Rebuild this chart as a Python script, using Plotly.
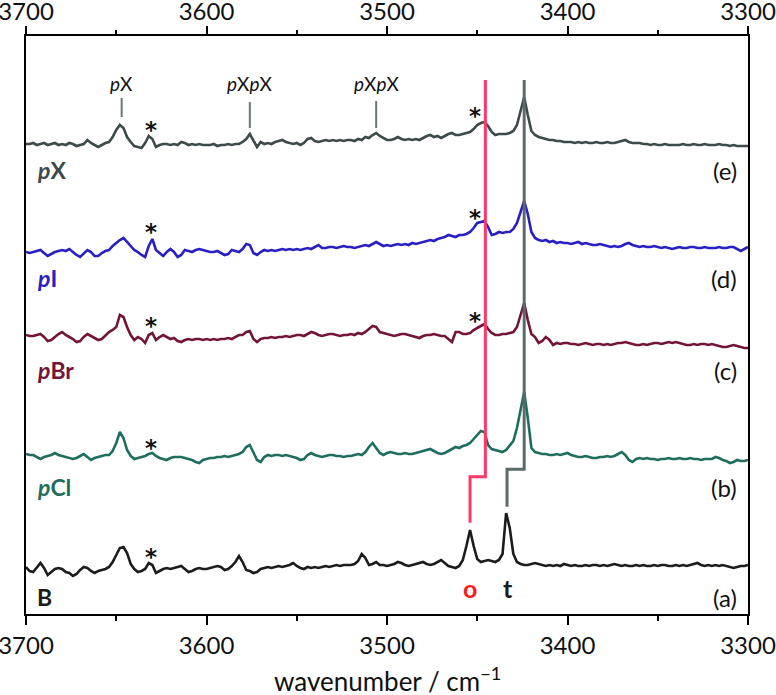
import numpy as np
import plotly.graph_objects as go

# wavenumber grid (cm^-1), 2 cm^-1 steps from 3700 down to 3300
wavenumber = np.arange(3700, 3299, -2)

# intensities (arbitrary units, relative to each trace's own baseline)
spec_pX = [
    1, 1, 2, 0, 1, 2, 0, 1, 2, 0,
    1, 0, 2, 1, -1, 0, 1, 5, 2, 0,
    -2, 0, 2, 3, 8, 15, 20, 17, 8, 3,
    -1, -2, -3, 2, 9, 6, -2, 0, 1, 1,
    0, 1, 0, 3, 2, 0, 1, 0, 1, 0,
    0, 0, 1, -1, 0, 0, 1, 0, 1, 1,
    3, 6, 11, 4, -2, 3, 1, 2, 1, 3,
    4, 5, 3, 2, 1, 2, 0, 2, 6, 7,
    4, 3, 4, 5, 4, 5, 4, 5, 4, 5,
    5, 4, 6, 5, 8, 7, 10, 12, 9, 7,
    5, 5, 6, 8, 6, 5, 6, 5, 6, 5,
    7, 9, 10, 8, 9, 7, 9, 11, 12, 10,
    10, 11, 12, 13, 16, 20, 22, 23, 19, 13,
    10, 11, 11, 11, 12, 14, 20, 35, 48, 30,
    14, 10, 8, 7, 6, 5, 5, 4, 4, 3,
    3, 3, 2, 3, 2, 3, 2, 2, 3, 2,
    2, 3, 2, 2, 3, 4, 5, 3, 2, 2,
    2, 1, 1, 0, 1, 0, 0, 1, 0, 0,
    0, 0, 1, 0, 0, 1, 0, 0, 1, 0,
    0, 0, 1, 0, 0, -1, 0, -1, -1, -1,
    -1,
]
spec_pI = [
    0, -1, 0, 1, 2, -1, -4, -2, 0, 1,
    2, 1, 3, 0, -3, -5, -1, 2, 0, -4,
    -4, -1, 1, 2, 6, 9, 12, 14, 10, 5,
    2, 0, -3, -5, 6, 13, 2, -1, -4, 0,
    3, 0, -5, -3, 2, 1, 0, 2, 3, 2,
    1, 0, 0, 1, -1, -3, -2, 2, 1, 0,
    3, 8, 7, -1, -3, 0, 2, 1, 2, 1,
    2, 3, 2, 3, 2, 3, 2, 3, 4, 3,
    5, 7, 4, 4, 5, 5, 4, 5, 6, 5,
    5, 4, 5, 6, 7, 6, 8, 10, 8, 6,
    7, 6, 7, 8, 7, 8, 7, 9, 8, 9,
    10, 11, 12, 11, 13, 14, 15, 17, 16, 15,
    17, 17, 18, 20, 24, 29, 30, 31, 25, 17,
    18, 20, 19, 20, 20, 23, 29, 40, 51, 38,
    20, 14, 12, 11, 12, 10, 11, 9, 10, 9,
    9, 8, 9, 10, 8, 9, 8, 7, 7, 8,
    7, 6, 5, 6, 5, 6, 8, 9, 7, 6,
    5, 6, 5, 5, 6, 5, 4, 5, 4, 3,
    4, 5, 4, 4, 5, 5, 4, 4, 5, 4,
    4, 4, 5, 4, 4, 5, 5, 3, 1, 3,
    5,
]
spec_pBr = [
    2, 1, 1, 2, 3, 0, -4, -3, 0, 3,
    5, 2, 0, -2, -5, -4, 0, 3, 1, -1,
    -3, -2, 2, 5, 7, 10, 22, 20, 10, 2,
    -3, 0, -2, -6, 2, 4, -3, 0, 2, 0,
    -2, -1, -4, -5, -3, -2, -3, -2, -2, -3,
    -2, -3, -2, -3, -2, -2, -1, -2, 0, 2,
    2, 5, 6, -2, -5, -2, -1, -1, 0, -1,
    0, 0, 1, 0, 1, 2, 2, 1, 3, 5,
    4, 2, 1, 2, 3, 3, 2, 1, 2, 2,
    3, 2, 4, 3, 5, 8, 11, 10, 5, 4,
    3, 2, 1, 2, 3, 3, 2, 1, 0, -1,
    1, 2, 2, 3, 2, 1, 1, -2, -5, 5,
    5, 3, 3, 4, 7, 9, 11, 13, 8, 4,
    2, 2, 3, 3, 4, 5, 10, 22, 34, 17,
    3, 0, -6, -4, 0, -3, -8, -6, -7, -6,
    -6, -7, -7, -8, -7, -6, -7, -8, -7, -7,
    -8, -7, -8, -7, -6, -6, -5, -6, -7, -8,
    -8, -7, -8, -7, -6, -6, -7, -6, -5, -6,
    -5, -6, -7, -8, -8, -7, -8, -7, -7, -8,
    -7, -8, -9, -10, -10, -9, -8, -9, -10, -11,
    -11,
]
spec_pCl = [
    2, 1, 1, -1, -3, -1, 0, 1, 3, 1,
    0, -1, -2, -3, -2, 0, 2, -1, -4, -2,
    -1, 0, 1, 1, 5, 13, 24, 18, 6, 0,
    -3, -2, -1, 0, 2, 3, 0, -2, -3, -4,
    -2, -1, -1, -1, -2, -3, -4, -6, -7, -4,
    -3, -2, -2, -1, -1, 0, -1, 0, 1, 2,
    4, 9, 11, 3, -4, -6, -1, 1, 0, 1,
    1, 0, 1, 0, -1, -2, -4, -3, 1, 3,
    1, 0, -1, 0, 1, 1, 0, 0, -1, 0,
    0, 1, 2, 1, 4, 9, 13, 8, 3, 1,
    3, 4, 3, 2, 2, 3, 2, 2, 3, 4,
    5, 6, 7, 5, 3, 2, 3, 5, 7, 9,
    8, 10, 11, 13, 17, 21, 25, 24, 11, 7,
    6, 5, 4, 6, 10, 15, 28, 48, 64, 38,
    8, 4, 3, 2, 2, 1, 1, 2, 1, 2,
    3, 1, 0, -1, -1, 0, -1, -2, -2, -1,
    -1, 0, -1, 0, 2, 4, 1, -4, -6, -3,
    -2, -3, -2, -3, -3, -4, -3, -3, -2, -3,
    -3, -2, -3, -3, -2, -3, -3, -4, -3, -3,
    -3, -1, -2, -4, -5, -7, -6, -4, -5, -5,
    -4,
]
spec_B = [
    1, -3, -4, 0, 5, 0, -7, -4, -1, 0,
    -1, -4, -5, -8, -6, -2, 1, 0, -3, -5,
    -3, -2, -1, 1, 6, 13, 20, 21, 15, 4,
    -1, -4, -3, -1, 5, 3, -5, -3, -1, 0,
    -1, 0, 1, 2, -1, -4, -3, -1, 0, -1,
    -1, 0, 1, 2, 1, -2, -1, 2, 6, 12,
    6, -2, -3, -5, -4, -1, 0, 1, 0, 1,
    2, 1, 2, 3, 5, 2, 0, -1, 1, 0,
    1, 0, 1, 2, 1, 2, 3, 2, 3, 3,
    3, 4, 7, 14, 10, 3, 4, 6, 3, 3,
    2, 3, 4, 6, 5, 3, 2, 3, 4, 5,
    6, 4, 3, 4, 6, 8, 5, 2, 1, 0,
    2, 8, 22, 38, 22, 9, 6, 7, 8, 7,
    6, 8, 14, 55, 40, 14, 6, 4, 3, 3,
    4, 5, 4, 3, 2, 3, 2, 3, 2, 4,
    3, 2, 3, 2, 2, 3, 2, 3, 3, 2,
    3, 2, 3, 4, 3, 2, 3, 2, 2, 3,
    2, 3, 2, 2, 3, 2, 3, 3, 2, 2,
    3, 2, 3, 2, 3, 4, 5, 3, 2, 3,
    2, 3, 2, 3, 2, 1, 0, 1, 2, 2,
    3,
]

series_names = ["B", "pCl", "pBr", "pI", "pX"]
series_data = [spec_B, spec_pCl, spec_pBr, spec_pI, spec_pX]
series_colors = ["#1c1c1c", "#1f6e5d", "#721539", "#2a1fc0", "#3e4a4a"]
series_offsets = [46, 158, 277, 362, 469]
panel_tags = ["(a)", "(b)", "(c)", "(d)", "(e)"]
series_labels = ["<b>B</b>", "<b><i>p</i>Cl</b>", "<b><i>p</i>Br</b>", "<b><i>p</i>I</b>", "<b><i>p</i>X</b>"]
label_y = [17, 127, 244, 336, 444]

FONT = "Lato"

fig = go.Figure()
for name, data, color, off in zip(series_names, series_data, series_colors, series_offsets):
    fig.add_trace(go.Scatter(
        x=wavenumber, y=np.array(data, dtype=float) + off, mode="lines", name=name,
        line=dict(color=color, width=2.6), showlegend=False,
        xaxis="x2" if name == "pX" else "x",
    ))

annotations = []
for lab, tag, color, ly in zip(series_labels, panel_tags, series_colors, label_y):
    annotations.append(dict(x=3695, y=ly, xref="x", yref="y", text=lab, showarrow=False,
                            xanchor="left", yanchor="middle",
                            font=dict(family=FONT, size=23, color=color)))
    annotations.append(dict(x=3305, y=ly, xref="x", yref="y", text=tag, showarrow=False,
                            xanchor="right", yanchor="middle",
                            font=dict(family=FONT, size=24, color="#111111")))

# band labels for pX
band_pos = [3647, 3576, 3506]
band_text = ["<i>p</i>X", "<i>p</i>X<i>p</i>X", "<i>p</i>X<i>p</i>X"]
for bx, bt in zip(band_pos, band_text):
    annotations.append(dict(x=bx, y=531, xref="x", yref="y", text=bt, showarrow=False,
                            xanchor="center", yanchor="middle",
                            font=dict(family=FONT, size=19, color="#111111")))

# asterisks
star_x = [3631, 3451, 3631, 3451, 3631, 3451, 3631, 3631]
star_y = [490, 504, 388, 402, 294, 299, 172, 63]
for sx, sy in zip(star_x, star_y):
    annotations.append(dict(x=sx, y=sy - 6, xref="x", yref="y", text="<b>*</b>", showarrow=False,
                            xanchor="center", yanchor="middle",
                            font=dict(family="DejaVu Sans", size=23, color="#111111")))

annotations.append(dict(x=3454, y=26, xref="x", yref="y", text="<b>o</b>", showarrow=False,
                        font=dict(family=FONT, size=25, color="#ff1a1a")))
annotations.append(dict(x=3433, y=26, xref="x", yref="y", text="<b>t</b>", showarrow=False,
                        font=dict(family=FONT, size=25, color="#1c1c1c")))
annotations.append(dict(x=0.5, y=-0.114, xref="paper", yref="paper", text="wavenumber / cm<sup>\u22121</sup>",
                        showarrow=False, xanchor="center", yanchor="middle",
                        font=dict(family=FONT, size=26, color="#111111")))

shapes = []
band_tick_top = [516, 512, 513]
band_tick_bot = [497, 486, 486]
for bx, t0, t1 in zip(band_pos, band_tick_top, band_tick_bot):
    shapes.append(dict(type="line", x0=bx, x1=bx, y0=t0, y1=t1, xref="x", yref="y",
                       line=dict(color="#6a7878", width=2)))
# ortho / trans marker lines
shapes.append(dict(type="path", xref="x", yref="y", layer="above",
                   path="M 3445.5,534 L 3445.5,137.3 L 3454,137.3 L 3454,91.3",
                   line=dict(color="#ff3868", width=3)))
shapes.append(dict(type="path", xref="x", yref="y", layer="above",
                   path="M 3424,534 L 3424,144.7 L 3433.5,144.7 L 3433.5,107.3",
                   line=dict(color="#5d6a6a", width=3)))

axis_common = dict(range=[3700, 3300], dtick=100, tick0=3300, ticks="outside", ticklen=9,
                   tickwidth=2, tickcolor="black", showgrid=False, zeroline=False,
                   automargin=False, ticklabeloverflow="allow",
                   minor=dict(dtick=50, tick0=3300, ticks="outside", ticklen=5, tickwidth=2,
                              tickcolor="black", showgrid=False),
                   tickfont=dict(family=FONT, size=24, color="#111111"))

fig.update_layout(
    width=776, height=695,
    margin=dict(l=26, r=28, t=36, b=81, autoexpand=False),
    paper_bgcolor="white", plot_bgcolor="white",
    xaxis=dict(**axis_common, showline=True, linecolor="black", linewidth=2, mirror=True),
    xaxis2=dict(**axis_common, overlaying="x", side="top", matches="x", showline=False,
                ticklabelstandoff=-4),
    yaxis=dict(range=[0, 578], showline=True, linecolor="black", linewidth=2, mirror=True,
               automargin=False,
               showticklabels=False, ticks="", showgrid=False, zeroline=False),
    annotations=annotations, shapes=shapes,
)

fig.write_html("out.html")
